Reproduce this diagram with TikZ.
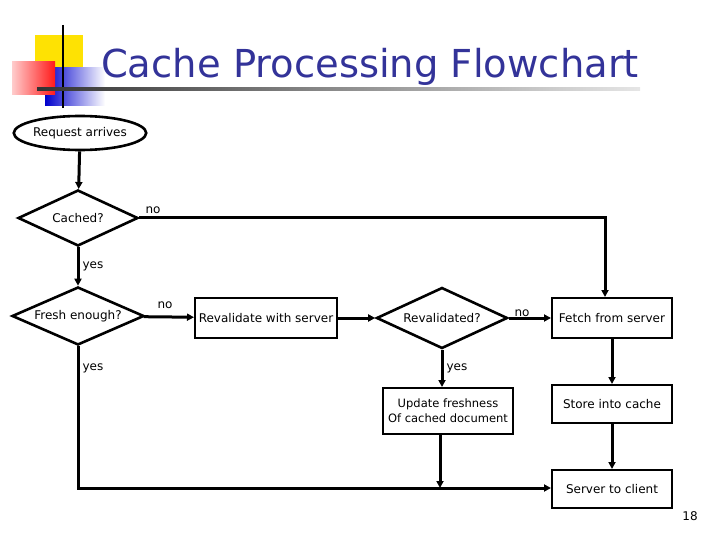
\documentclass[tikz,border=0pt]{standalone}
\usepackage{fontspec}
\setmainfont{DejaVu Sans}
\usetikzlibrary{shapes.geometric,arrows.meta}
\definecolor{titleblue}{HTML}{333399}
\begin{document}
\begin{tikzpicture}[x=1pt,y=-1pt,
  every node/.style={font=\fontsize{12}{14}\selectfont},
  box/.style={draw,line width=2pt,minimum height=40pt,inner sep=1pt},
  dia/.style={draw,diamond,line width=2.6pt,inner sep=0pt,aspect=2.2},
  con/.style={line width=3pt,-{Triangle[length=7pt,width=7pt]}},
  lbl/.style={font=\fontsize{12}{14}\selectfont}]
\useasboundingbox (0,0) rectangle (720,540);
% decoration
\fill[yellow!85!orange] (35,35) rectangle (83,68);
\shade[left color=blue!80!black,right color=white] (45,68) rectangle (105,106);
\shade[left color=red!20,right color=red!90] (12,62) rectangle (55,95);
\draw[line width=2pt] (63,25) -- (63,108);
\shade[left color=black!80,right color=black!10] (37,88) rectangle (640,90.5);
\node[font=\fontsize{38.5}{44}\selectfont,text=titleblue] (title) at (370,67) {Cache Processing Flowchart};
% nodes
\node[draw,ellipse,line width=2.6pt,minimum width=130pt,minimum height=34pt,inner sep=0pt] (req) at (80,133) {Request arrives};
\node[dia,minimum width=120pt,minimum height=56pt] (cached) at (78,218) {Cached?};
\node[dia,minimum width=132pt,minimum height=58pt] (fresh) at (78,316) {Fresh enough?};
\node[box,minimum width=142pt] (reval) at (266,318) {Revalidate with server};
\node[dia,minimum width=131pt,minimum height=61pt] (revd) at (442,318) {Revalidated?};
\node[box,minimum width=120pt] (fetch) at (612,318) {Fetch from server};
\node[box,minimum width=130pt,minimum height=46pt,align=center,font=\fontsize{11.5}{15}\selectfont] (upd) at (448,411) {Update freshness\\Of cached document};
\node[box,minimum width=120pt,minimum height=38pt] (store) at (612,404) {Store into cache};
\node[box,minimum width=120pt,minimum height=38pt] (client) at (612,489) {Server to client};
\coordinate (c1) at (605,218);
\coordinate (c2) at (78,488);
\coordinate (c3) at (440,488);
% connectors
\draw[con] (req) -- (cached);
\draw[con] (cached) -- (fresh);
\draw[con] (cached.east) -- (c1) -- (c1 |- fetch.north);
\draw[con] (fresh) -- (reval);
\draw[con] (reval) -- (revd);
\draw[con] (revd) -- (fetch);
\draw[con] (revd.south) -- (revd.south |- upd.north);
\draw[con] (fetch) -- (store);
\draw[con] (store) -- (client);
\draw[con] (fresh.south) -- (c2) -- (client.west |- c2);
\draw[con] (upd.south -| c3) -- (c3);
% labels
\node[lbl] (l1) at (153,210) {no};
\node[lbl] (l2) at (93,266) {yes};
\node[lbl] (l3) at (165,305) {no};
\node[lbl] (l4) at (522,313) {no};
\node[lbl] (l5) at (457,368) {yes};
\node[lbl] (l6) at (93,368) {yes};
\node[lbl] (pg) at (690,516) {18};
\end{tikzpicture}
\end{document}
